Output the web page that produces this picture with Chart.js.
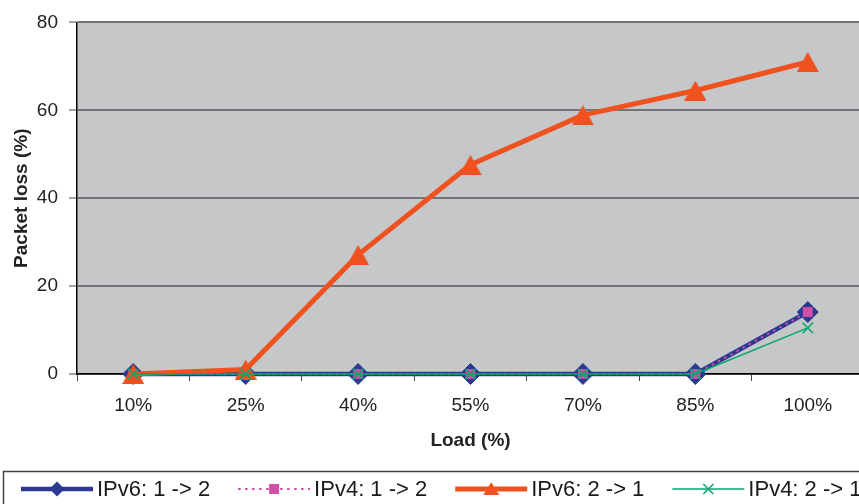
<!DOCTYPE html>
<html>
<head>
<meta charset="utf-8">
<script src="https://cdn.jsdelivr.net/npm/chart.js@4"></script>
<style>
html, body { margin: 0; padding: 0; background: #fff; overflow: hidden; }
#wrap { width: 859px; height: 504px; overflow: hidden; }
</style>
</head>
<body>
<div id="wrap"><canvas id="lossChart" width="880" height="504"></canvas></div>
<script>
// values
const loadLabels = ['10%', '25%', '40%', '55%', '70%', '85%', '100%'];
const ipv6Up = [0, 0, 0, 0, 0, 0, 14.1];
const ipv4Up = [0, 0, 0, 0, 0, 0, 14.1];
const ipv6Down = [0, 1.0, 27.1, 47.6, 58.9, 64.5, 71.0];
const ipv4Down = [0, 0, 0, 0, 0, 0, 10.5];
const seriesNames = ['IPv6: 1 -> 2', 'IPv4: 1 -> 2', 'IPv6: 2 -> 1', 'IPv4: 2 -> 1'];
const yTicks = [0, 20, 40, 60, 80];

const FONT = "'Liberation Sans', Arial, sans-serif";
const NAVY = '#2B3990';
const PINK = '#D04FA6';
const ORANGE = '#F0521F';
const GREEN = '#00A86F';

// triangle marker as a small canvas so it sits centred on the value (like Excel)
function makeTriangle(color, w, h) {
    const c = document.createElement('canvas');
    c.width = w;
    c.height = h;
    const g = c.getContext('2d');
    g.fillStyle = color;
    g.beginPath();
    g.moveTo(w / 2, 0);
    g.lineTo(w, h);
    g.lineTo(0, h);
    g.closePath();
    g.fill();
    return c;
}
const triangleMark = makeTriangle(ORANGE, 22, 20);

// small marker painter for the legend
function drawMarker(ctx, style, x, y, r, color) {
    ctx.save();
    ctx.fillStyle = color;
    ctx.strokeStyle = color;
    ctx.lineWidth = 1.5;
    ctx.beginPath();
    if (style === 'diamond') {
        ctx.moveTo(x - r, y); ctx.lineTo(x, y - r); ctx.lineTo(x + r, y); ctx.lineTo(x, y + r);
        ctx.closePath(); ctx.fill();
    } else if (style === 'square') {
        ctx.rect(x - r, y - r, 2 * r, 2 * r); ctx.fill();
    } else if (style === 'triangle') {
        ctx.moveTo(x, y - r * 0.85); ctx.lineTo(x + r, y + r * 0.75); ctx.lineTo(x - r, y + r * 0.75);
        ctx.closePath(); ctx.fill();
    } else {
        ctx.moveTo(x - r, y - r); ctx.lineTo(x + r, y + r);
        ctx.moveTo(x + r, y - r); ctx.lineTo(x - r, y + r);
        ctx.stroke();
    }
    ctx.restore();
}
const legendMarks = [['diamond', 7.5], ['square', 5], ['triangle', 8], ['cross', 5]];

const plotBackground = {
    id: 'plotBackground',
    beforeDraw(chart) {
        const a = chart.chartArea;
        const ctx = chart.ctx;
        ctx.save();
        ctx.fillStyle = '#C6C7C9';
        ctx.fillRect(a.left, a.top, a.right - a.left, a.bottom - a.top);
        ctx.restore();
    }
};

const boxLegend = {
    id: 'boxLegend',
    afterDraw(chart) {
        const ctx = chart.ctx;
        ctx.save();
        ctx.strokeStyle = '#444';
        ctx.lineWidth = 1.5;
        ctx.strokeRect(3.5, 471.5, chart.width, 60);
        ctx.font = '22px ' + FONT;
        ctx.textBaseline = 'middle';
        ctx.textAlign = 'left';
        const y = 489;
        let x = 21;
        chart.data.datasets.forEach((ds, i) => {
            ctx.save();
            ctx.strokeStyle = ds.borderColor;
            ctx.lineWidth = ds.borderWidth;
            ctx.setLineDash(ds.borderDash || []);
            ctx.beginPath();
            ctx.moveTo(x, y);
            ctx.lineTo(x + 72, y);
            ctx.stroke();
            ctx.restore();
            drawMarker(ctx, legendMarks[i][0], x + 36, y, legendMarks[i][1], ds.borderColor);
            ctx.fillStyle = '#1a1a1a';
            ctx.fillText(ds.label, x + 76, y + 1);
            x += 76 + ctx.measureText(ds.label).width + 28;
        });
        ctx.restore();
    }
};

const lossChart = new Chart(document.getElementById('lossChart').getContext('2d'), {
    type: 'line',
    data: {
        labels: loadLabels,
        datasets: [
            {
                label: seriesNames[0], data: ipv6Up,
                borderColor: NAVY, backgroundColor: NAVY, borderWidth: 4.5,
                pointStyle: 'rectRot', pointRadius: 10.5,
                pointBackgroundColor: NAVY, pointBorderColor: NAVY, pointBorderWidth: 1,
                tension: 0, clip: false, order: 4
            },
            {
                label: seriesNames[1], data: ipv4Up,
                borderColor: PINK, backgroundColor: PINK, borderWidth: 2, borderDash: [2.5, 4.5],
                pointStyle: 'rect', pointRadius: 7,
                pointBackgroundColor: PINK, pointBorderColor: PINK, pointBorderWidth: 0,
                tension: 0, clip: false, order: 3
            },
            {
                label: seriesNames[2], data: ipv6Down,
                borderColor: ORANGE, backgroundColor: ORANGE, borderWidth: 5,
                borderJoinStyle: 'round',
                pointStyle: triangleMark, pointRadius: 11,
                tension: 0, clip: false, order: 2
            },
            {
                label: seriesNames[3], data: ipv4Down,
                borderColor: GREEN, backgroundColor: GREEN, borderWidth: 1.5,
                pointStyle: 'crossRot', pointRadius: 7.5,
                pointBackgroundColor: GREEN, pointBorderColor: GREEN, pointBorderWidth: 1.5,
                tension: 0, clip: false, order: 1
            }
        ]
    },
    options: {
        responsive: false,
        animation: false,
        devicePixelRatio: 1,
        layout: { padding: { top: 22, right: 12, bottom: 50, left: 0 } },
        plugins: {
            legend: { display: false },
            tooltip: { enabled: false }
        },
        scales: {
            x: {
                offset: true,
                afterFit: function(scale) { scale.height = 80; },
                grid: {
                    offset: true,
                    drawOnChartArea: false,
                    tickLength: 7,
                    tickColor: '#444',
                    lineWidth: 1
                },
                border: { color: '#000', width: 1.5 },
                ticks: { color: '#222', padding: 13, font: { family: FONT, size: 19 } },
                title: {
                    display: true,
                    text: 'Load (%)',
                    color: '#222',
                    padding: { top: 0, bottom: 2 },
                    font: { family: FONT, size: 19, weight: 'bold' }
                }
            },
            y: {
                min: 0,
                max: 80,
                afterFit: function(scale) { scale.width = 77; },
                afterBuildTicks: function(scale) {
                    scale.ticks = yTicks.map(v => ({ value: v }));
                },
                grid: {
                    color: '#747478',
                    lineWidth: 2,
                    tickLength: 8,
                    tickColor: '#444',
                    tickWidth: 1
                },
                border: { color: '#000', width: 1.5 },
                ticks: { color: '#222', padding: 11, font: { family: FONT, size: 19 } },
                title: {
                    display: true,
                    text: 'Packet loss (%)',
                    color: '#222',
                    padding: { top: 10, bottom: 0 },
                    font: { family: FONT, size: 19, weight: 'bold' }
                }
            }
        }
    },
    plugins: [plotBackground, boxLegend]
});
</script>
</body>
</html>
